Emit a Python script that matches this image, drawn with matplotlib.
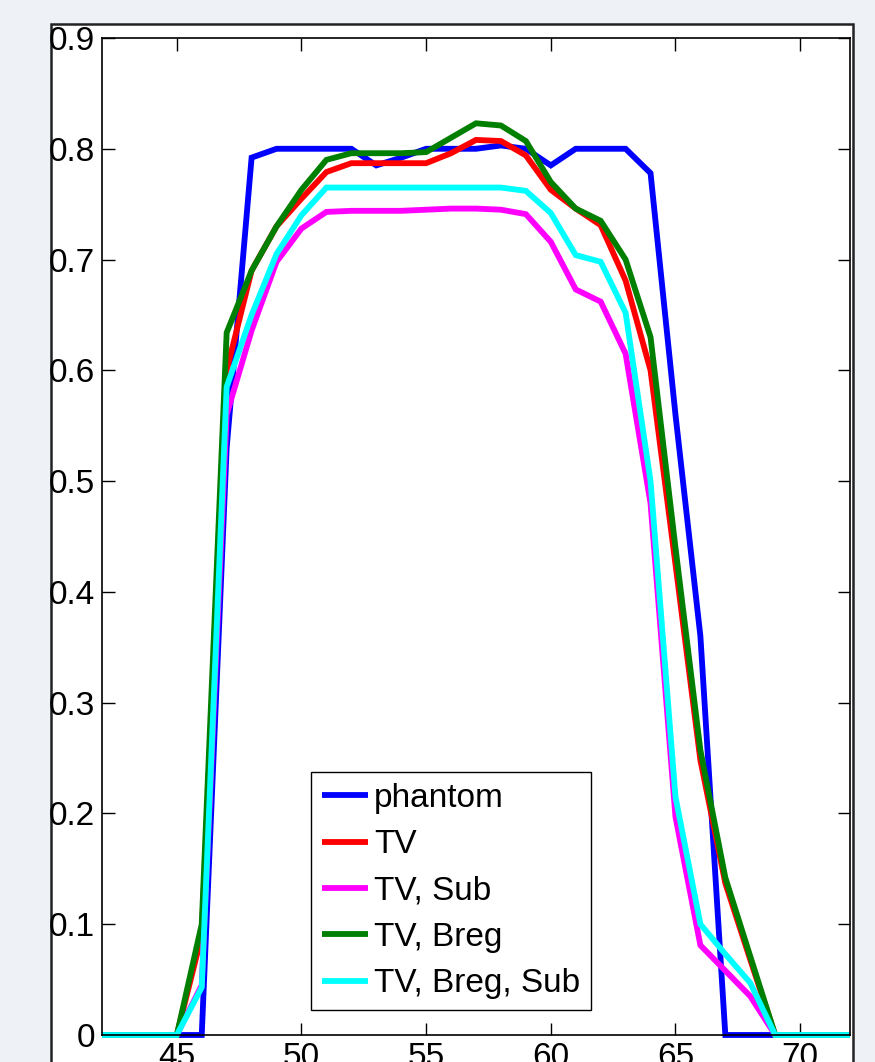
import matplotlib
matplotlib.use("Agg")
import matplotlib.pyplot as plt
from matplotlib.patches import Rectangle

plt.rcParams['font.family'] = ['Liberation Sans', 'DejaVu Sans']

x = list(range(42, 73))
phantom = [0, 0, 0, 0, 0, 0.53, 0.792, 0.80, 0.80, 0.80, 0.80, 0.785, 0.792, 0.80, 0.80,
           0.80, 0.803, 0.80, 0.785, 0.80, 0.80, 0.80, 0.778, 0.56, 0.36, 0, 0, 0, 0, 0, 0]
tv = [0, 0, 0, 0, 0.09, 0.60, 0.69, 0.73, 0.755, 0.779, 0.787, 0.787, 0.787, 0.787, 0.796,
      0.808, 0.807, 0.794, 0.763, 0.746, 0.731, 0.681, 0.60, 0.425, 0.248, 0.137, 0.068, 0, 0, 0, 0]
tv_sub = [0, 0, 0, 0, 0.045, 0.56, 0.636, 0.698, 0.728, 0.743, 0.744, 0.744, 0.744, 0.745, 0.746,
          0.746, 0.745, 0.741, 0.716, 0.673, 0.662, 0.615, 0.48, 0.197, 0.081, 0.058, 0.035, 0, 0, 0, 0]
tv_breg = [0, 0, 0, 0, 0.10, 0.634, 0.69, 0.73, 0.763, 0.79, 0.796, 0.796, 0.796, 0.797, 0.81,
           0.823, 0.821, 0.807, 0.77, 0.746, 0.735, 0.70, 0.63, 0.44, 0.257, 0.142, 0.071, 0, 0, 0, 0]
tv_breg_sub = [0, 0, 0, 0, 0.043, 0.585, 0.65, 0.705, 0.74, 0.765, 0.765, 0.765, 0.765, 0.765, 0.765,
               0.765, 0.765, 0.762, 0.742, 0.704, 0.698, 0.652, 0.50, 0.215, 0.10, 0.073, 0.047, 0, 0, 0, 0]

series = [
    ("phantom", phantom, "#0000ff"),
    ("TV", tv, "#ff0000"),
    ("TV, Sub", tv_sub, "#ff00ff"),
    ("TV, Breg", tv_breg, "#007f00"),
    ("TV, Breg, Sub", tv_breg_sub, "#00ffff"),
]
xticks = [45, 50, 55, 60, 65, 70]
yticks = [0, 0.1, 0.2, 0.3, 0.4, 0.5, 0.6, 0.7, 0.8, 0.9]
ytick_labels = ["0", "0.1", "0.2", "0.3", "0.4", "0.5", "0.6", "0.7", "0.8", "0.9"]

W, H = 875, 1062
fig = plt.figure(figsize=(W / 100, H / 100), dpi=100)
fig.patch.set_facecolor('#eef2f6')

# white figure frame (MATLAB-like window)
frame = Rectangle((51 / W, -0.2), (853 - 51) / W, 0.2 + (H - 24) / H,
                  transform=fig.transFigure, facecolor='white', edgecolor='#222222',
                  linewidth=1.8, zorder=-5)
fig.patches.append(frame)

ax = fig.add_axes([102 / W, (H - 1035) / H, (850 - 102) / W, (1035 - 38) / H])
ax.set_zorder(2)
ax.set_facecolor('white')

for label, vals, col in series:
    ax.plot(x, vals, color=col, linewidth=4.2, label=label, clip_on=False,
            solid_capstyle='butt', solid_joinstyle='miter')

ax.set_xlim(42, 72)
ax.set_ylim(0, 0.9)
ax.set_xticks(xticks)
ax.set_xticklabels([str(t) for t in xticks])
ax.set_yticks(yticks)
ax.set_yticklabels(ytick_labels)
ax.tick_params(axis='both', direction='in', length=9, width=1.0, labelsize=24,
               top=True, right=True, pad=5, colors='black')
for s in ax.spines.values():
    s.set_linewidth(1.2)
    s.set_color('black')

leg = ax.legend(loc='lower left', bbox_to_anchor=(0.2794, 0.0251), borderaxespad=0,
                fontsize=24, frameon=True, fancybox=False, framealpha=1,
                edgecolor='black', handlelength=1.4, handletextpad=0.17,
                labelspacing=0.46, borderpad=0.32)
leg.get_frame().set_linewidth(1.0)

fig.savefig("out.png", dpi=100, facecolor=fig.get_facecolor())
